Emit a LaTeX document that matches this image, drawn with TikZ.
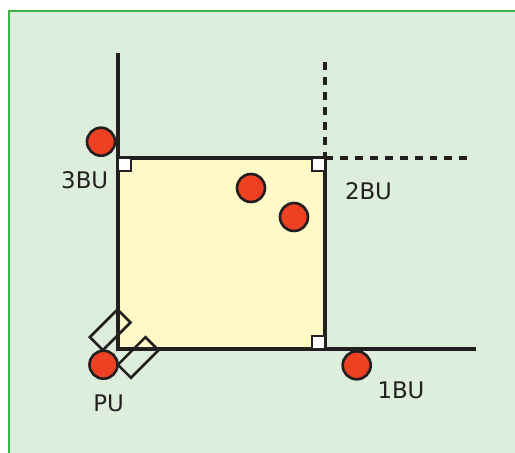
\documentclass[tikz,border=0pt]{standalone}
\usepackage{fontspec}
\setmainfont{DejaVu Sans}
\definecolor{panelgreen}{HTML}{DEEEDC}
\definecolor{framegreen}{HTML}{3DB54A}
\definecolor{roomyellow}{HTML}{FFF9C8}
\definecolor{unitred}{HTML}{EE4023}
\definecolor{inkdark}{HTML}{231F20}

\begin{document}
\begin{tikzpicture}[x=0.02cm, y=-0.02cm,
    wall/.style={draw=inkdark, line width=2pt},
    guide/.style={draw=inkdark, line width=1.8pt, dash pattern=on 4.5pt off 4pt},
    corner/.style={draw=inkdark, fill=white, line width=1.5pt},
    unit/.style={circle, draw=inkdark, fill=unitred, line width=1.5pt, minimum size=0.56cm, inner sep=0pt},
    tag/.style={font=\fontsize{13}{15}\selectfont, text=inkdark, inner sep=0pt},
    door/.style={draw=inkdark, line width=1.5pt, minimum width=0.78cm, minimum height=0.37cm, inner sep=0pt, rotate=45}]
  \useasboundingbox (0,0) rectangle (515,453);
  \clip (0,0) rectangle (515,453);
  \draw[framegreen, line width=1.6pt, fill=panelgreen] (9,11) rectangle (540,480);

  \coordinate (nw) at (118,158);
  \coordinate (ne) at (325,158);
  \coordinate (se) at (325,349);
  \coordinate (sw) at (118,349);
  \coordinate (walltop) at (118,53);
  \coordinate (wallend) at (476,349);
  \coordinate (guidetop) at (325,62);
  \coordinate (guideend) at (472,158);

  \fill[roomyellow] (nw) rectangle (se);
  \draw[guide] (guidetop) -- (ne);
  \draw[guide] (ne) -- (guideend);
  \draw[wall] (walltop) -- (sw) -- (wallend);
  \draw[wall] (nw) -- (ne) -- (se);
  \draw[corner] (nw) rectangle ++(13,13);
  \draw[corner] (ne) rectangle ++(-13,13);
  \draw[corner] (se) rectangle ++(-13,-13);

  \node[door] (door1) at (110.2,329.8) {};
  \node[door] (door2) at (138.2,357.5) {};

  \node[unit] (bu3) at (101,141.7) {};
  \node[unit] (bu2a) at (251,188) {};
  \node[unit] (bu2b) at (294,217) {};
  \node[unit] (pu) at (103.5,364.7) {};
  \node[unit] (bu1) at (356.7,365.3) {};

  \node[tag] (bu3label) at (84.7,180.5) {3BU};
  \node[tag] (bu2label) at (368.5,191) {2BU};
  \node[tag] (pulabel) at (108.5,403) {PU};
  \node[tag] (bu1label) at (401,390) {1BU};
\end{tikzpicture}
\end{document}
